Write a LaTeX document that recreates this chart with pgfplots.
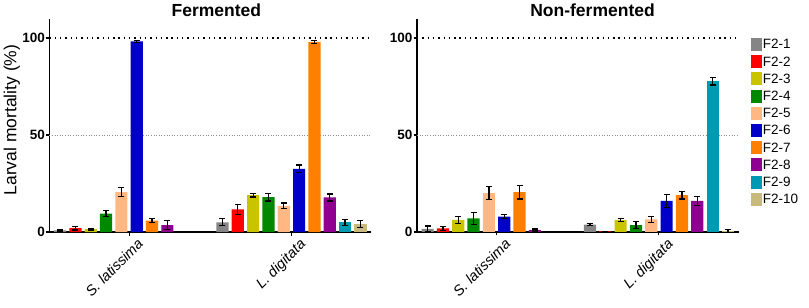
\documentclass[border=0pt]{standalone}
\usepackage{pgfplots}
\pgfplotsset{compat=1.18}
\usepackage{fontspec}
\setmainfont{Liberation Sans}
\definecolor{c1}{HTML}{858585}
\definecolor{c2}{HTML}{FF0000}
\definecolor{c3}{HTML}{C8C400}
\definecolor{c4}{HTML}{008800}
\definecolor{c5}{HTML}{FFB784}
\definecolor{c6}{HTML}{0000C8}
\definecolor{c7}{HTML}{FF8000}
\definecolor{c8}{HTML}{900090}
\definecolor{c9}{HTML}{0099B4}
\definecolor{c10}{HTML}{C8BA7C}
\tikzset{catlab/.style={rotate=45, anchor=north east, inner sep=0pt, font=\itshape\fontsize{14.5}{16}\selectfont, xshift=1.5pt, yshift=-9pt}}
\pgfplotsset{
  panel/.style={
    scale only axis, width=321.5pt, height=213.4pt,
    xmin=-0.49, xmax=1.49, ymin=0, ymax=110,
    axis x line*=bottom, axis y line*=left,
    x axis line style={-, line width=1.3pt},
    y axis line style={-, line width=1.3pt},
    every tick/.style={black, line width=1.1pt},
    tick align=outside, major tick length=3.5pt,
    xtick={0,1}, xticklabels={,},
    ytick={0,50,100}, yticklabels={0,50,100},
    yticklabel style={font=\bfseries\fontsize{13.5}{15}\selectfont, inner sep=1pt},
    title style={font=\bfseries\fontsize{17.5}{19}\selectfont, anchor=south, inner sep=0pt, yshift=-4pt},
    clip=false,
    error bars/y dir=both, error bars/y explicit,
    error bars/error bar style={black, line width=1.2pt},
    error bars/error mark options={black, rotate=90, mark size=3pt, line width=1.2pt},
  },
  bar/.style={ybar, bar width=0.075, bar shift=0pt, fill=#1, draw=none},
}
\begin{document}
\begin{tikzpicture}
\path[use as bounding box] (0,0) rectangle (809pt,308pt);
% Fermented
\begin{axis}[panel, at={(49.5pt,76pt)}, anchor=south west,
  title={Fermented}, title style={at={(axis description cs:0.519,1)}},
  ylabel={Larval mortality (\%)},
  ylabel style={at={(axis description cs:-0.117,0.525)}, anchor=center, font=\fontsize{17.5}{19}\selectfont}]
\draw[black, line width=1.3pt, dash pattern=on 1.4pt off 3.9pt] (axis cs:-0.49,100) -- (axis cs:1.49,100);
\draw[black!45, line width=0.9pt, dash pattern=on 1pt off 1.6pt] (axis cs:-0.49,50) -- (axis cs:1.49,50);
\node[catlab] at (axis cs:0,0) {S. latissima};
\node[catlab] at (axis cs:1,0) {L. digitata};
\addplot[bar=c1] coordinates {(-0.4248,0.8) +- (0,0.3) (0.5752,5.0) +- (0,1.8)};
\addplot[bar=c2] coordinates {(-0.3304,2.0) +- (0,1.0) (0.6696,11.7) +- (0,2.5)};
\addplot[bar=c3] coordinates {(-0.2360,1.5) +- (0,0.5) (0.7640,19.0) +- (0,1.0)};
\addplot[bar=c4] coordinates {(-0.1416,9.5) +- (0,1.7) (0.8584,18.0) +- (0,2.0)};
\addplot[bar=c5] coordinates {(-0.0472,20.5) +- (0,2.3) (0.9528,13.5) +- (0,1.5)};
\addplot[bar=c6] coordinates {(0.0472,98.3) +- (0,0.5) (1.0472,32.5) +- (0,2.0)};
\addplot[bar=c7] coordinates {(0.1416,5.8) +- (0,1.0) (1.1416,98.0) +- (0,0.7)};
\addplot[bar=c8] coordinates {(0.2360,3.5) +- (0,2.3) (1.2360,17.8) +- (0,1.8)};
\addplot[bar=c9] coordinates {(1.3304,5.0) +- (0,1.5)};
\addplot[bar=c10] coordinates {(1.4248,4.3) +- (0,1.8)};
\end{axis}
% Non-fermented
\begin{axis}[panel, at={(417pt,76pt)}, anchor=south west,
  title={Non-fermented}, title style={at={(axis description cs:0.546,1)}},
  legend entries={F2-1,F2-2,F2-3,F2-4,F2-5,F2-6,F2-7,F2-8,F2-9,F2-10},
  legend cell align=left,
  legend image code/.code={\fill[#1] (0pt,-6.5pt) rectangle (11pt,6.5pt);},
  legend style={at={(axis description cs:1.038,0.91)}, anchor=north west, draw=none, fill=none,
    inner sep=0pt, row sep=4.2pt, font=\fontsize{13.5}{15}\selectfont,
    nodes={inner sep=1pt, text height=9.7pt, text depth=1pt}}]
\draw[black, line width=1.3pt, dash pattern=on 1.4pt off 3.9pt] (axis cs:-0.49,100) -- (axis cs:1.49,100);
\draw[black!45, line width=0.9pt, dash pattern=on 1pt off 1.6pt] (axis cs:-0.49,50) -- (axis cs:1.49,50);
\node[catlab] at (axis cs:0,0) {S. latissima};
\node[catlab] at (axis cs:1,0) {L. digitata};
\addplot[bar=c1] coordinates {(-0.4248,1.6) +- (0,1.5) (0.5752,3.8) +- (0,0.5)};
\addplot[bar=c2] coordinates {(-0.3304,1.9) +- (0,1.0) (0.6696,0.3) +- (0,0)};
\addplot[bar=c3] coordinates {(-0.2360,6.2) +- (0,1.8) (0.7640,6.3) +- (0,0.8)};
\addplot[bar=c4] coordinates {(-0.1416,7.0) +- (0,3.0) (0.8584,3.6) +- (0,1.8)};
\addplot[bar=c5] coordinates {(-0.0472,20.0) +- (0,3.4) (0.9528,6.5) +- (0,1.6)};
\addplot[bar=c6] coordinates {(0.0472,7.9) +- (0,1.0) (1.0472,16.0) +- (0,3.4)};
\addplot[bar=c7] coordinates {(0.1416,20.5) +- (0,3.5) (1.1416,19.0) +- (0,2.0)};
\addplot[bar=c8] coordinates {(0.2360,1.0) +- (0,0.5) (1.2360,16.0) +- (0,2.5)};
\addplot[bar=c9] coordinates {(1.3304,77.8) +- (0,2.0)};
\addplot[bar=c10] coordinates {(1.4248,0.5) +- (0,0.7)};
\end{axis}
\end{tikzpicture}
\end{document}
